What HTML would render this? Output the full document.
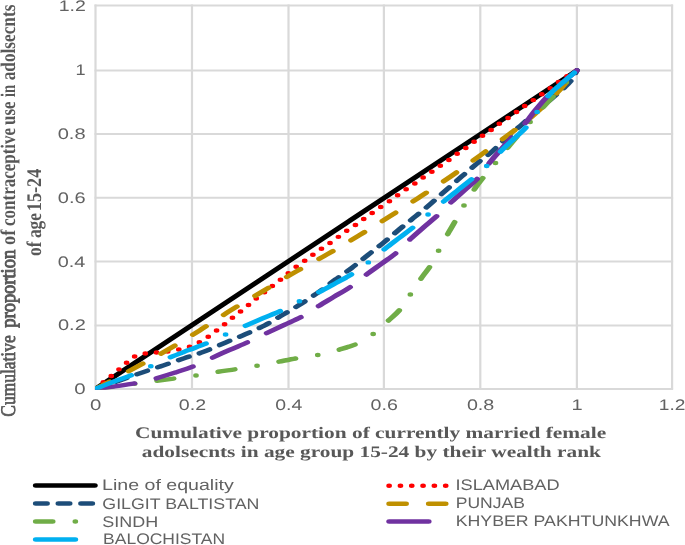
<!DOCTYPE html>
<html lang="en"><head><meta charset="utf-8"><title>Concentration curves of contraceptive use</title>
<style>html,body{margin:0;padding:0;background:#fff}svg{display:block}text{text-rendering:geometricPrecision}</style></head><body>
<svg width="685" height="545" viewBox="0 0 685 545">
<rect width="685" height="545" fill="#fff"/>
<defs><filter id="soft" x="-2%" y="-2%" width="104%" height="104%"><feGaussianBlur stdDeviation="0.55"/></filter></defs>
<g filter="url(#soft)">
<g stroke="#d9d9d9" fill="none">
<line x1="95.50" y1="4.60" x2="95.50" y2="389.55" stroke-width="2.2"/>
<line x1="192.00" y1="4.60" x2="192.00" y2="389.55" stroke-width="2.2"/>
<line x1="288.50" y1="4.60" x2="288.50" y2="389.55" stroke-width="2.2"/>
<line x1="383.90" y1="4.60" x2="383.90" y2="389.55" stroke-width="2.2"/>
<line x1="480.30" y1="4.60" x2="480.30" y2="389.55" stroke-width="2.2"/>
<line x1="576.90" y1="4.60" x2="576.90" y2="389.55" stroke-width="2.2"/>
<line x1="672.10" y1="4.60" x2="672.10" y2="389.55" stroke-width="2.2"/>
<line x1="94.50" y1="389.05" x2="673.10" y2="389.05" stroke-width="2"/>
<line x1="94.50" y1="325.40" x2="673.10" y2="325.40" stroke-width="2"/>
<line x1="94.50" y1="261.50" x2="673.10" y2="261.50" stroke-width="2"/>
<line x1="94.50" y1="197.80" x2="673.10" y2="197.80" stroke-width="2"/>
<line x1="94.50" y1="133.90" x2="673.10" y2="133.90" stroke-width="2"/>
<line x1="94.50" y1="70.40" x2="673.10" y2="70.40" stroke-width="2"/>
<line x1="94.50" y1="5.60" x2="673.10" y2="5.60" stroke-width="2"/>
</g>
<defs><clipPath id="plotclip"><rect x="95" y="0" width="590" height="389.8"/></clipPath></defs>
<g clip-path="url(#plotclip)"><g transform="scale(1.2600,1)" fill="none" stroke-linecap="round" stroke-linejoin="round" stroke-width="4.49">
<path d="M75.87 388.90 L457.86 70.40" stroke="#000000"/>
<path d="M75.87 388.90 C76.88 387.83 79.85 384.63 81.90 382.50 C83.96 380.37 86.12 378.25 88.17 376.10 C90.22 373.95 92.17 371.82 94.21 369.60 C96.24 367.38 98.32 364.97 100.40 362.80 C102.47 360.63 104.17 358.17 106.67 356.60 C109.17 355.03 112.54 354.08 115.40 353.40 C118.25 352.72 120.95 352.82 123.81 352.50 C126.67 352.18 129.56 352.00 132.54 351.50 C135.52 351.00 138.72 350.28 141.67 349.50 C144.62 348.72 147.53 347.98 150.24 346.80 C152.95 345.62 155.46 344.07 157.94 342.40 C160.41 340.73 162.78 338.75 165.08 336.80 C167.38 334.85 169.56 332.78 171.75 330.70 C173.93 328.62 176.06 326.45 178.17 324.30 C180.29 322.15 182.33 319.93 184.44 317.80 C186.56 315.67 188.76 313.60 190.87 311.50 C192.99 309.40 195.07 307.35 197.14 305.20 C199.22 303.05 201.22 300.73 203.33 298.60 C205.45 296.47 207.70 294.52 209.84 292.40 C211.98 290.28 214.09 288.00 216.19 285.90 C218.29 283.80 220.37 281.90 222.46 279.80 C224.55 277.70 226.57 275.53 228.73 273.30 C230.89 271.07 233.19 268.50 235.40 266.40 C237.61 264.30 239.80 262.68 241.98 260.70 C244.17 258.72 246.28 256.50 248.49 254.50 C250.70 252.50 253.02 250.62 255.24 248.70 C257.46 246.78 259.59 244.98 261.83 243.00 C264.06 241.02 266.43 238.82 268.65 236.80 C270.87 234.78 272.92 232.85 275.16 230.90 C277.39 228.95 279.80 227.10 282.06 225.10 C284.33 223.10 286.48 220.95 288.73 218.90 C290.98 216.85 293.29 214.78 295.56 212.80 C297.82 210.82 300.04 208.92 302.30 207.00 C304.56 205.08 306.90 203.28 309.13 201.30 C311.35 199.32 313.41 197.13 315.63 195.10 C317.86 193.07 320.17 191.05 322.46 189.10 C324.75 187.15 327.10 185.38 329.37 183.40 C331.63 181.42 333.78 179.17 336.03 177.20 C338.28 175.23 340.53 173.60 342.86 171.60 C345.19 169.60 347.71 167.20 350.00 165.20 C352.29 163.20 354.40 161.55 356.59 159.60 C358.77 157.65 360.87 155.48 363.10 153.50 C365.32 151.52 367.70 149.67 369.92 147.70 C372.14 145.73 374.22 143.72 376.43 141.70 C378.64 139.68 380.91 137.58 383.17 135.60 C385.44 133.62 387.78 131.80 390.00 129.80 C392.22 127.80 394.27 125.58 396.51 123.60 C398.74 121.62 401.15 119.85 403.41 117.90 C405.67 115.95 407.88 113.92 410.08 111.90 C412.28 109.88 414.37 107.78 416.59 105.80 C418.81 103.82 421.14 101.98 423.41 100.00 C425.69 98.02 427.98 95.92 430.24 93.90 C432.50 91.88 434.79 89.88 436.98 87.90 C439.18 85.92 441.24 83.95 443.41 82.00 C445.58 80.05 447.59 78.13 450.00 76.20 C452.41 74.27 456.55 71.37 457.86 70.40" stroke="#FF0000" stroke-dasharray="0 8.98" stroke-dashoffset="0.00"/>
<path d="M75.87 388.90 C82.14 386.12 104.55 376.10 113.49 372.20 C122.43 368.30 124.07 367.83 129.52 365.50 C134.97 363.17 140.83 360.48 146.19 358.20 C151.55 355.92 156.24 354.38 161.67 351.80 C167.09 349.22 173.23 345.62 178.73 342.70 C184.23 339.78 189.44 337.20 194.68 334.30 C199.92 331.40 205.13 328.60 210.16 325.30 C215.19 322.00 220.01 318.10 224.84 314.50 C229.67 310.90 234.37 307.52 239.13 303.70 C243.89 299.88 248.89 295.63 253.41 291.60 C257.94 287.57 261.96 283.47 266.27 279.50 C270.58 275.53 275.01 271.87 279.29 267.80 C283.56 263.73 287.62 259.40 291.90 255.10 C296.19 250.80 300.75 246.37 305.00 242.00 C309.25 237.63 313.24 233.18 317.38 228.90 C321.52 224.62 325.73 220.53 329.84 216.30 C333.96 212.07 338.02 207.88 342.06 203.50 C346.11 199.12 350.08 194.48 354.13 190.00 C358.17 185.52 362.28 181.02 366.35 176.60 C370.42 172.18 374.42 167.82 378.57 163.50 C382.72 159.18 387.26 155.12 391.27 150.70 C395.28 146.28 398.68 141.50 402.62 137.00 C406.56 132.50 410.86 128.20 414.92 123.70 C418.98 119.20 422.99 114.37 426.98 110.00 C430.98 105.63 435.32 101.33 438.89 97.50 C442.46 93.67 445.90 90.00 448.41 87.00 C450.93 84.00 452.39 82.27 453.97 79.50 C455.54 76.73 457.21 71.92 457.86 70.40" stroke="#1F4E79" stroke-dasharray="8.98 8.98" stroke-dashoffset="0.00"/>
<path d="M75.87 388.90 C81.19 385.32 98.15 373.98 107.78 367.40 C117.41 360.82 125.20 355.57 133.65 349.40 C142.10 343.23 150.24 336.92 158.49 330.40 C166.75 323.88 174.91 316.77 183.17 310.30 C191.44 303.83 199.74 297.87 208.10 291.60 C216.46 285.33 224.84 278.83 233.33 272.70 C241.83 266.57 250.52 260.95 259.05 254.80 C267.58 248.65 276.12 242.22 284.52 235.80 C292.92 229.38 301.24 222.85 309.44 216.30 C317.65 209.75 325.69 203.13 333.73 196.50 C341.77 189.87 349.79 183.37 357.70 176.50 C365.61 169.63 373.39 162.40 381.19 155.30 C388.99 148.20 398.61 139.40 404.52 133.90 C410.44 128.40 412.57 126.48 416.67 122.30 C420.77 118.12 424.84 113.77 429.13 108.80 C433.41 103.83 438.90 97.05 442.38 92.50 C445.86 87.95 447.42 85.18 450.00 81.50 C452.58 77.82 456.55 72.25 457.86 70.40" stroke="#BF9000" stroke-dasharray="13.47 17.96" stroke-dashoffset="0.00"/>
<path d="M75.87 388.90 C78.57 388.47 86.72 387.20 92.06 386.30 C97.41 385.40 102.58 384.42 107.94 383.50 C113.29 382.58 118.92 381.67 124.21 380.80 C129.50 379.93 134.38 379.22 139.68 378.30 C144.99 377.38 150.61 376.37 156.03 375.30 C161.46 374.23 166.83 372.95 172.22 371.90 C177.62 370.85 183.00 370.03 188.41 369.00 C193.82 367.97 199.29 366.90 204.68 365.70 C210.08 364.50 215.40 363.10 220.79 361.80 C226.19 360.50 231.61 359.07 237.06 357.90 C242.51 356.73 248.13 356.17 253.49 354.80 C258.85 353.43 264.23 351.55 269.21 349.70 C274.18 347.85 278.72 346.45 283.33 343.70 C287.95 340.95 292.61 337.22 296.90 333.20 C301.20 329.18 305.67 323.58 309.13 319.60 C312.58 315.62 314.76 313.65 317.62 309.30 C320.48 304.95 323.41 298.80 326.27 293.50 C329.13 288.20 332.20 282.13 334.76 277.50 C337.33 272.87 339.37 270.35 341.67 265.70 C343.97 261.05 346.19 255.10 348.57 249.60 C350.95 244.10 353.77 237.57 355.95 232.70 C358.13 227.83 359.52 225.12 361.67 220.40 C363.81 215.68 366.26 209.73 368.81 204.40 C371.36 199.07 374.48 192.95 376.98 188.40 C379.48 183.85 380.97 181.55 383.81 177.10 C386.65 172.65 390.95 166.47 394.05 161.70 C397.14 156.93 399.67 152.70 402.38 148.50 C405.09 144.30 407.14 141.08 410.32 136.50 C413.49 131.92 417.79 126.15 421.43 121.00 C425.07 115.85 428.99 109.98 432.14 105.60 C435.29 101.22 437.47 98.58 440.32 94.70 C443.16 90.82 446.28 86.35 449.21 82.30 C452.13 78.25 456.42 72.38 457.86 70.40" stroke="#70AD47" stroke-dasharray="13.47 17.96 0 17.96" stroke-dashoffset="0.00"/>
<path d="M75.87 388.90 C78.44 388.48 85.95 387.35 91.27 386.40 C96.59 385.45 102.34 384.53 107.78 383.20 C113.21 381.87 118.70 380.17 123.89 378.40 C129.07 376.63 133.88 374.65 138.89 372.60 C143.90 370.55 149.09 368.55 153.97 366.10 C158.85 363.65 163.41 360.62 168.17 357.90 C172.94 355.18 177.59 352.53 182.54 349.80 C187.49 347.07 193.07 344.25 197.86 341.50 C202.65 338.75 206.68 336.05 211.27 333.30 C215.86 330.55 220.56 327.85 225.40 325.00 C230.24 322.15 235.71 319.38 240.32 316.20 C244.92 313.02 248.89 309.13 253.02 305.90 C257.14 302.67 260.85 300.00 265.08 296.80 C269.31 293.60 274.01 290.52 278.41 286.70 C282.82 282.88 287.38 277.80 291.51 273.90 C295.63 270.00 299.23 266.92 303.17 263.30 C307.12 259.68 311.39 256.27 315.16 252.20 C318.93 248.13 322.24 243.10 325.79 238.90 C329.35 234.70 332.84 231.02 336.51 227.00 C340.17 222.98 344.14 218.98 347.78 214.80 C351.42 210.62 354.79 206.07 358.33 201.90 C361.88 197.73 365.54 193.77 369.05 189.80 C372.55 185.83 376.01 182.78 379.37 178.10 C382.72 173.42 386.16 166.47 389.21 161.70 C392.25 156.93 394.76 153.62 397.62 149.50 C400.48 145.38 402.96 141.65 406.35 137.00 C409.74 132.35 414.99 125.87 417.94 121.60 C420.89 117.33 421.08 115.88 424.05 111.40 C427.01 106.92 431.92 99.55 435.71 94.70 C439.51 89.85 443.13 86.35 446.83 82.30 C450.52 78.25 456.02 72.38 457.86 70.40" stroke="#7030A0" stroke-dasharray="31.43 17.96" stroke-dashoffset="0.00"/>
<path d="M75.87 388.90 C78.31 387.67 85.62 383.83 90.48 381.50 C95.33 379.17 100.09 377.47 105.00 374.90 C109.91 372.33 114.91 369.03 119.92 366.10 C124.93 363.17 130.09 359.97 135.08 357.30 C140.07 354.63 144.91 352.48 149.84 350.10 C154.78 347.72 159.75 345.63 164.68 343.00 C169.62 340.37 174.40 337.18 179.44 334.30 C184.48 331.42 189.99 328.40 194.92 325.70 C199.85 323.00 204.34 320.62 209.05 318.10 C213.76 315.58 218.32 313.45 223.17 310.60 C228.03 307.75 233.15 304.08 238.17 301.00 C243.20 297.92 248.58 295.10 253.33 292.10 C258.08 289.10 262.21 286.10 266.67 283.00 C271.12 279.90 275.73 277.02 280.08 273.50 C284.43 269.98 288.48 266.07 292.78 261.90 C297.08 257.73 301.79 252.57 305.87 248.50 C309.96 244.43 313.49 241.17 317.30 237.50 C321.11 233.83 324.87 230.45 328.73 226.50 C332.59 222.55 336.49 218.05 340.48 213.80 C344.46 209.55 348.70 205.05 352.62 201.00 C356.53 196.95 360.19 193.32 363.97 189.50 C367.75 185.68 371.52 182.12 375.32 178.10 C379.11 174.08 382.94 170.02 386.75 165.40 C390.56 160.78 394.62 154.88 398.17 150.40 C401.73 145.92 404.79 142.47 408.10 138.50 C411.40 134.53 414.87 131.25 418.02 126.60 C421.16 121.95 423.99 115.92 426.98 110.60 C429.97 105.28 432.65 99.42 435.95 94.70 C439.26 89.98 443.17 86.35 446.83 82.30 C450.48 78.25 456.02 72.38 457.86 70.40" stroke="#00B0F0" stroke-dasharray="31.43 17.96 0 17.96" stroke-dashoffset="0.00"/>
</g></g>
<text transform="translate(74.18,394.05) scale(1.3344,1)" font-family="'Liberation Sans', sans-serif" font-weight="normal" font-size="15.30" fill="#626262">0</text>
<text transform="translate(58.00,330.40) scale(1.3072,1)" font-family="'Liberation Sans', sans-serif" font-weight="normal" font-size="15.30" fill="#626262">0.2</text>
<text transform="translate(57.81,266.50) scale(1.2973,1)" font-family="'Liberation Sans', sans-serif" font-weight="normal" font-size="15.30" fill="#626262">0.4</text>
<text transform="translate(57.80,202.80) scale(1.3072,1)" font-family="'Liberation Sans', sans-serif" font-weight="normal" font-size="15.30" fill="#626262">0.6</text>
<text transform="translate(57.70,138.90) scale(1.3122,1)" font-family="'Liberation Sans', sans-serif" font-weight="normal" font-size="15.30" fill="#626262">0.8</text>
<text transform="translate(75.55,75.40) scale(1.1856,1)" font-family="'Liberation Sans', sans-serif" font-weight="normal" font-size="15.30" fill="#626262">1</text>
<text transform="translate(58.64,10.60) scale(1.2761,1)" font-family="'Liberation Sans', sans-serif" font-weight="normal" font-size="15.30" fill="#626262">1.2</text>
<text transform="translate(90.08,409.90) scale(1.3344,1)" font-family="'Liberation Sans', sans-serif" font-weight="normal" font-size="15.30" fill="#626262">0</text>
<text transform="translate(178.77,409.90) scale(1.2821,1)" font-family="'Liberation Sans', sans-serif" font-weight="normal" font-size="15.30" fill="#626262">0.2</text>
<text transform="translate(275.17,409.90) scale(1.2725,1)" font-family="'Liberation Sans', sans-serif" font-weight="normal" font-size="15.30" fill="#626262">0.4</text>
<text transform="translate(370.57,409.90) scale(1.2822,1)" font-family="'Liberation Sans', sans-serif" font-weight="normal" font-size="15.30" fill="#626262">0.6</text>
<text transform="translate(466.91,409.90) scale(1.2872,1)" font-family="'Liberation Sans', sans-serif" font-weight="normal" font-size="15.30" fill="#626262">0.8</text>
<text transform="translate(571.60,409.90) scale(1.3072,1)" font-family="'Liberation Sans', sans-serif" font-weight="normal" font-size="15.30" fill="#626262">1</text>
<text transform="translate(658.82,409.90) scale(1.2501,1)" font-family="'Liberation Sans', sans-serif" font-weight="normal" font-size="15.30" fill="#626262">1.2</text>
<text transform="translate(135.03,437.50) scale(1.3282,1)" font-family="'Liberation Serif', serif" font-weight="bold" font-size="16.10" fill="#595959">Cumulative proportion of currently married female</text>
<text transform="translate(141.76,456.50) scale(1.3258,1)" font-family="'Liberation Serif', serif" font-weight="bold" font-size="16.10" fill="#595959">adolsecnts in age group 15-24 by their wealth rank</text>
<text transform="translate(102.03,490.40) scale(1.2806,1)" font-family="'Liberation Sans', sans-serif" font-weight="normal" font-size="15.30" fill="#626262">Line of equality</text>
<text transform="translate(102.31,508.60) scale(1.1622,1)" font-family="'Liberation Sans', sans-serif" font-weight="normal" font-size="15.30" fill="#626262">GILGIT BALTISTAN</text>
<text transform="translate(102.30,526.50) scale(1.1756,1)" font-family="'Liberation Sans', sans-serif" font-weight="normal" font-size="15.30" fill="#626262">SINDH</text>
<text transform="translate(103.10,544.40) scale(1.1424,1)" font-family="'Liberation Sans', sans-serif" font-weight="normal" font-size="15.30" fill="#626262">BALOCHISTAN</text>
<text transform="translate(455.46,490.40) scale(1.1891,1)" font-family="'Liberation Sans', sans-serif" font-weight="normal" font-size="15.30" fill="#626262">ISLAMABAD</text>
<text transform="translate(455.70,508.40) scale(1.1459,1)" font-family="'Liberation Sans', sans-serif" font-weight="normal" font-size="15.30" fill="#626262">PUNJAB</text>
<text transform="translate(455.68,526.30) scale(1.1598,1)" font-family="'Liberation Sans', sans-serif" font-weight="normal" font-size="15.30" fill="#626262">KHYBER PAKHTUNKHWA</text>
<text transform="translate(15.10,416.70) rotate(-90) scale(1.0893,1.3000)" font-family="'Liberation Serif', serif" font-weight="normal" font-size="16" fill="#595959" stroke="#595959" stroke-width="0.55">Cumulative</text>
<text transform="translate(15.10,327.67) rotate(-90) scale(1.1516,1.3000)" font-family="'Liberation Serif', serif" font-weight="normal" font-size="16" fill="#595959" stroke="#595959" stroke-width="0.80">proportion</text>
<text transform="translate(15.10,244.94) rotate(-90) scale(1.1484,1.3000)" font-family="'Liberation Serif', serif" font-weight="bold" font-size="16" fill="#595959">of</text>
<text transform="translate(15.10,226.01) rotate(-90) scale(1.0621,1.3000)" font-family="'Liberation Serif', serif" font-weight="bold" font-size="16" fill="#595959">contraceptive</text>
<text transform="translate(15.10,124.94) rotate(-90) scale(1.0588,1.3000)" font-family="'Liberation Serif', serif" font-weight="bold" font-size="16" fill="#595959">use</text>
<text transform="translate(15.10,96.99) rotate(-90) scale(0.9141,1.3000)" font-family="'Liberation Serif', serif" font-weight="bold" font-size="16" fill="#595959">in</text>
<text transform="translate(15.10,80.32) rotate(-90) scale(1.0782,1.3000)" font-family="'Liberation Serif', serif" font-weight="bold" font-size="16" fill="#595959">adolsecnts</text>
<text transform="translate(40.80,255.89) rotate(-90) scale(1.0859,1.3000)" font-family="'Liberation Serif', serif" font-weight="bold" font-size="16" fill="#595959">of</text>
<text transform="translate(40.80,238.12) rotate(-90) scale(1.0881,1.3000)" font-family="'Liberation Serif', serif" font-weight="bold" font-size="16" fill="#595959">age</text>
<text transform="translate(40.80,211.16) rotate(-90) scale(1.1379,1.3000)" font-family="'Liberation Serif', serif" font-weight="bold" font-size="16" fill="#595959">15-24</text>
<g transform="scale(1.2600,1)" fill="none" stroke-linecap="round" stroke-width="4.49">
<path d="M28.36 485.50 h46.94" stroke="#000000"/>
<path d="M28.36 503.50 h46.94" stroke="#1F4E79" stroke-dasharray="8.98 8.98" stroke-dashoffset="0.00"/>
<path d="M28.36 521.60 h46.94" stroke="#70AD47" stroke-dasharray="13.47 17.96 0 17.96" stroke-dashoffset="0.00"/>
<path d="M28.36 539.60 h46.94" stroke="#00B0F0" stroke-dasharray="31.43 17.96 0 17.96" stroke-dashoffset="0.00"/>
<path d="M308.83 485.80 h46.94" stroke="#FF0000" stroke-dasharray="0 8.98" stroke-dashoffset="0.00"/>
<path d="M308.83 503.70 h46.94" stroke="#BF9000" stroke-dasharray="13.47 17.96" stroke-dashoffset="0.00"/>
<path d="M308.83 521.60 h46.94" stroke="#7030A0" stroke-dasharray="31.43 17.96" stroke-dashoffset="0.00"/>
</g>
</g>
</svg></body></html>
